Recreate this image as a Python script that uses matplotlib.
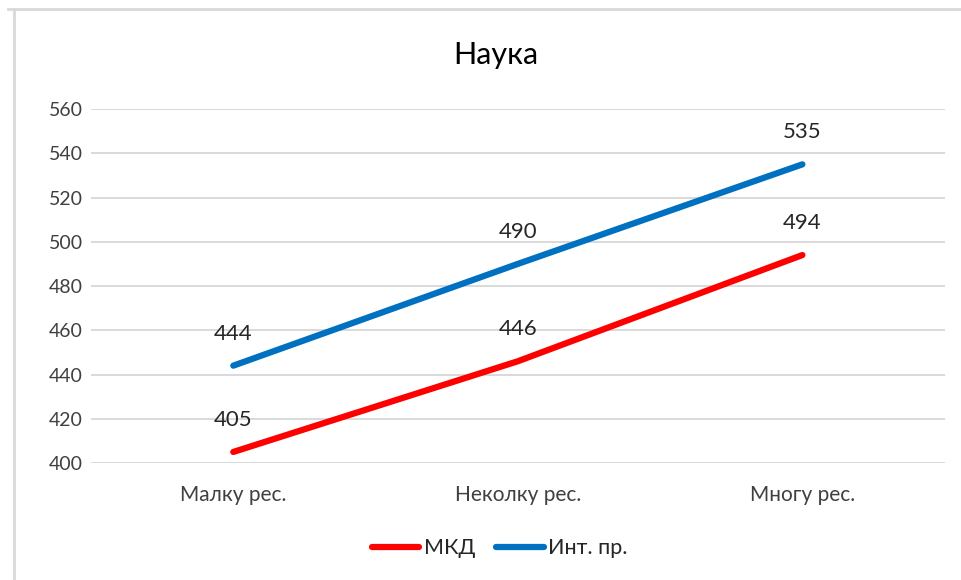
import matplotlib.pyplot as plt
from matplotlib.lines import Line2D

# --- Data ---
categories = ["Малку рес.", "Неколку рес.", "Многу рес."]
mkd = [405, 446, 494]
int_pr = [444, 490, 535]
series_names = ["МКД", "Инт. пр."]
yticks = [400, 420, 440, 460, 480, 500, 520, 540, 560]

plt.rcParams["font.family"] = ["Lato", "DejaVu Sans"]

fig = plt.figure(figsize=(9.61, 5.8), dpi=100)
ax = fig.add_axes([0.0947, 0.2017, 0.8883, 0.6103])

x = list(range(len(categories)))
ax.plot(x, mkd, color="#FF0000", linewidth=4.5, solid_capstyle="round",
        label=series_names[0], zorder=3)
ax.plot(x, int_pr, color="#0070C0", linewidth=4.5, solid_capstyle="round",
        label=series_names[1], zorder=3)

# data labels above each point
for vals in (mkd, int_pr):
    for xi, v in zip(x, vals):
        ax.annotate(str(v), (xi, v), xytext=(0, 23), textcoords="offset points",
                    ha="center", va="center", fontsize=16, color="#262626")

ax.set_xlim(-0.5, len(categories) - 0.5)
ax.set_ylim(400, 560)
ax.set_yticks(yticks)
ax.set_xticks(x)
ax.set_xticklabels(categories, fontsize=15)
ax.tick_params(axis="both", length=0, colors="#404040")
ax.tick_params(axis="y", labelsize=14, pad=6)
ax.tick_params(axis="x", pad=16)
ax.grid(axis="y", color="#d9d9d9", linewidth=1.4)
ax.set_axisbelow(True)
for s in ax.spines.values():
    s.set_visible(False)

fig.suptitle("Наука", x=0.516, y=0.93, fontsize=22, color="#000000")

fig.legend(loc="center", bbox_to_anchor=(0.52, 0.055), ncol=2, frameon=False,
           fontsize=15.5, handlelength=2.2, handletextpad=0.2, columnspacing=1.0,
           labelcolor="#262626")

# chart border (top and left edges)
fig.add_artist(Line2D([0.008, 1.0], [0.984, 0.984], transform=fig.transFigure,
                      color="#d9d9d9", linewidth=2))
fig.add_artist(Line2D([0.0145, 0.0145], [0.0, 0.984], transform=fig.transFigure,
                      color="#d9d9d9", linewidth=2))

fig.savefig("out.png", dpi=100)
